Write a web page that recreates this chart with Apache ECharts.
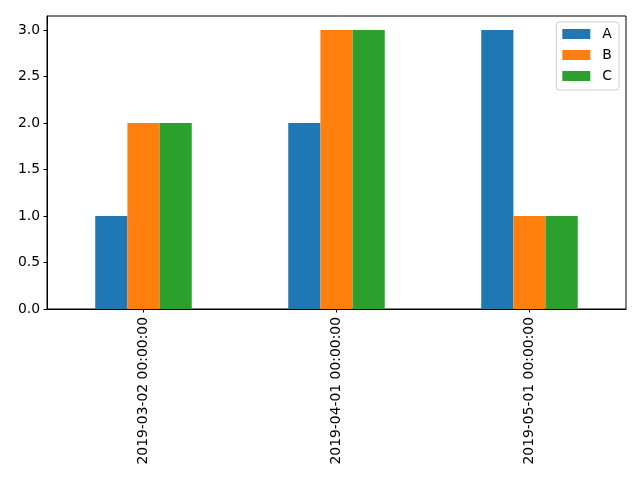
<!DOCTYPE html>
<html>
<head>
<meta charset="utf-8">
<script src="https://cdn.jsdelivr.net/npm/echarts@6/dist/echarts.min.js"></script>
<style>html,body{margin:0;padding:0;background:#fff}#c{width:640px;height:480px}</style>
</head>
<body>
<div id="c"></div>
<script>
var categories = ['2019-03-02 00:00:00', '2019-04-01 00:00:00', '2019-05-01 00:00:00'];
var seriesA = [1, 2, 3];
var seriesB = [2, 3, 1];
var seriesC = [2, 3, 1];
var seriesNames = ['A', 'B', 'C'];
var yTicks = [0, 0.5, 1.0, 1.5, 2.0, 2.5, 3.0];

var colors = ['#1f77b4', '#ff7f0e', '#2ca02c'];
var font = 'DejaVu Sans';
var chart = echarts.init(document.getElementById('c'), null, {renderer: 'canvas'});
var data = [seriesA, seriesB, seriesC];
chart.setOption({
  animation: false,
  backgroundColor: '#fff',
  textStyle: {fontFamily: font},
  grid: {left: 47, right: 14, top: 16, bottom: 171, show: true, borderColor: '#000', borderWidth: 1, backgroundColor: 'transparent'},
  legend: {
    orient: 'vertical', right: 21, top: 22,
    itemWidth: 28, itemHeight: 10, itemGap: 7,
    padding: [5, 7, 7, 6],
    borderColor: '#d0d0d0', borderWidth: 1, borderRadius: 3,
    backgroundColor: 'rgba(255,255,255,0.8)',
    icon: 'rect',
    textStyle: {fontFamily: font, fontSize: 13.9, color: '#000', padding: [0, 0, 0, 7]},
    data: seriesNames
  },
  xAxis: {
    type: 'category', data: categories,
    axisLine: {show: true, lineStyle: {color: '#000', width: 1}},
    axisTick: {show: true, alignWithLabel: true, length: 3.5, lineStyle: {color: '#000'}},
    axisLabel: {rotate: 90, fontFamily: font, fontSize: 13.9, color: '#000', margin: 8},
    splitLine: {show: false}
  },
  yAxis: {
    type: 'value', min: 0, max: 3.15, interval: 0.5,
    axisLine: {show: true, lineStyle: {color: '#000', width: 1}},
    axisTick: {show: true, length: 3.5, lineStyle: {color: '#000'}},
    axisLabel: {fontFamily: font, fontSize: 13.9, color: '#000', margin: 7, showMaxLabel: false,
      formatter: function (v) { return yTicks.indexOf(v) >= 0 ? v.toFixed(1) : ''; }},
    splitLine: {show: false}
  },
  series: seriesNames.map(function (n, i) {
    return {name: n, type: 'bar', data: data[i], barWidth: '16.667%', barGap: '0%',
      itemStyle: {color: colors[i]}};
  })
});
</script>
</body>
</html>
